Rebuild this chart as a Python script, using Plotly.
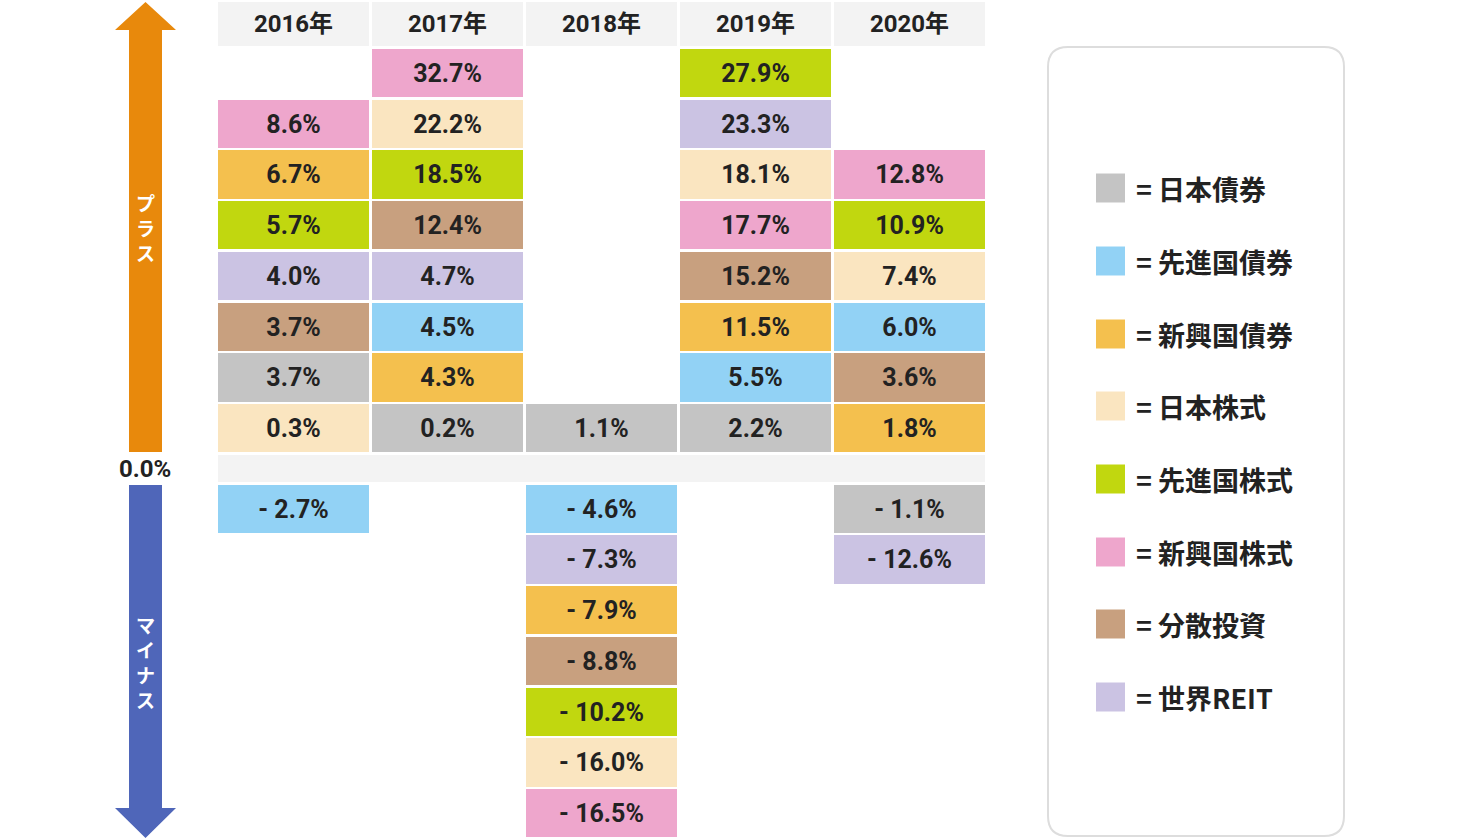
import plotly.graph_objects as go

years = ["2016年", "2017年", "2018年", "2019年", "2020年"]
assets = ["日本債券", "先進国債券", "新興国債券", "日本株式", "先進国株式", "新興国株式", "分散投資", "世界REIT"]
colors = ["#c4c4c4", "#92d2f5", "#f4c04e", "#fae5c0", "#c1d70f", "#eea6cc", "#c8a07f", "#cbc3e3"]

# returns (%) per asset, per year 2016..2020
ret_jp_bond    = [3.7, 0.2, 1.1, 2.2, -1.1]
ret_dev_bond   = [-2.7, 4.5, -4.6, 5.5, 6.0]
ret_em_bond    = [6.7, 4.3, -7.9, 11.5, 1.8]
ret_jp_eq      = [0.3, 22.2, -16.0, 18.1, 7.4]
ret_dev_eq     = [5.7, 18.5, -10.2, 27.9, 10.9]
ret_em_eq      = [8.6, 32.7, -16.5, 17.7, 12.8]
ret_balanced   = [3.7, 12.4, -8.8, 15.2, 3.6]
ret_reit       = [4.0, 4.7, -7.3, 23.3, -12.6]
returns = [ret_jp_bond, ret_dev_bond, ret_em_bond, ret_jp_eq,
           ret_dev_eq, ret_em_eq, ret_balanced, ret_reit]

# layout constants (row units)
CELL_H = 0.95
OFFSET = 0.32
BAR_W = 0.98

# rank within year: positives counted upward from zero, negatives downward
def rank_of(ai, yi):
    v = returns[ai][yi]
    same_sign = [(returns[k][yi], k) for k in range(len(assets))
                 if (returns[k][yi] >= 0) == (v >= 0)]
    if v >= 0:
        order = sorted(same_sign)  # smallest first
    else:
        order = sorted(same_sign, key=lambda t: (-t[0], t[1]))  # closest to zero first
    return order.index((v, ai))

fig = go.Figure()

# header cells
fig.add_trace(go.Bar(
    x=list(range(len(years))), y=[0.86] * len(years), base=[8.33] * len(years),
    width=BAR_W, marker=dict(color="#f3f3f3", line=dict(width=0)),
    text=years, texttemplate="<b>%{text}</b>", textposition="inside",
    insidetextanchor="middle", textangle=0,
    textfont=dict(family="Roboto, Noto Sans CJK JP", size=24, color="#222222"),
    hoverinfo="skip", showlegend=False,
))

for ai, name in enumerate(assets):
    xs, ys, bases, texts = [], [], [], []
    for yi in range(len(years)):
        v = returns[ai][yi]
        r = rank_of(ai, yi)
        xs.append(yi)
        if v >= 0:
            bases.append(OFFSET + r)
        else:
            bases.append(-OFFSET - r - CELL_H)
        ys.append(CELL_H)
        texts.append(f"{v:.1f}%".replace("-", "- "))
    fig.add_trace(go.Bar(
        x=xs, y=ys, base=bases, width=BAR_W, name=name,
        marker=dict(color=colors[ai], line=dict(width=0)),
        text=texts, texttemplate="<b>%{text}</b>", textposition="inside",
        insidetextanchor="middle", textangle=0,
        textfont=dict(family="Roboto", size=25, color="#222222"),
        hoverinfo="skip", showlegend=False,
    ))

# legend swatches (pixel axes)
leg_y = [188, 261, 334, 406, 479, 552, 624, 697]
fig.add_trace(go.Scatter(
    x=[1110.5] * len(assets), y=leg_y, mode="markers",
    marker=dict(symbol="square", size=29, color=colors, line=dict(width=0)),
    xaxis="x2", yaxis="y2", hoverinfo="skip", showlegend=False,
))
for i, name in enumerate(assets):
    fig.add_annotation(x=1134, y=leg_y[i], xref="x2", yref="y2", text="<b>= " + name + "</b>",
                       showarrow=False, xanchor="left", yanchor="middle",
                       font=dict(family="Noto Sans CJK JP", size=27, color="#222222"))

shapes = []
# zero band
shapes.append(dict(type="rect", xref="x", yref="y", x0=-0.49, x1=4.49, y0=-0.266, y1=0.266,
                   fillcolor="#f3f3f3", line=dict(width=0), layer="below"))
# arrows
shapes.append(dict(type="path", xref="x2", yref="y2",
                   path="M129,452 L129,30 L115,30 L145.5,2 L176,30 L162,30 L162,452 Z",
                   fillcolor="#e8890c", line=dict(width=0)))
shapes.append(dict(type="path", xref="x2", yref="y2",
                   path="M129,485 L162,485 L162,808 L176,808 L145.5,838 L115,808 L129,808 Z",
                   fillcolor="#4f66b9", line=dict(width=0)))
# legend frame
shapes.append(dict(type="path", xref="x2", yref="y2",
                   path="M1068,47 L1324,47 Q1344,47 1344,67 L1344,816 Q1344,836 1324,836 "
                        "L1068,836 Q1048,836 1048,816 L1048,67 Q1048,47 1068,47 Z",
                   fillcolor="rgba(0,0,0,0)", line=dict(color="#dddddd", width=2)))

plus_chars = ["プ", "ラ", "ス"]
plus_y = [202, 227, 252]
minus_chars = ["マ", "イ", "ナ", "ス"]
minus_y = [624, 649, 674, 699]
for ch, yy in list(zip(plus_chars, plus_y)) + list(zip(minus_chars, minus_y)):
    fig.add_annotation(x=145.5, y=yy, xref="x2", yref="y2", text="<b>" + ch + "</b>",
                       showarrow=False, yanchor="middle",
                       font=dict(family="Noto Sans CJK JP", size=19, color="white"))
fig.add_annotation(x=145, y=469, xref="x2", yref="y2", text="<b>0.0%</b>",
                   showarrow=False, font=dict(family="Roboto", size=24, color="#222222"))

fig.update_layout(
    width=1460, height=838, margin=dict(l=0, r=0, t=0, b=0),
    paper_bgcolor="white", plot_bgcolor="white",
    barmode="overlay", bargap=0,
    font=dict(family="Roboto, Noto Sans CJK JP"),
    xaxis=dict(range=[-293.5 / 154, (1460 - 293.5) / 154], visible=False, fixedrange=True),
    yaxis=dict(range=[-(838 - 468.5) / 50.75, 468.5 / 50.75], visible=False, fixedrange=True),
    xaxis2=dict(range=[0, 1460], overlaying="x", visible=False, anchor="y2", fixedrange=True),
    yaxis2=dict(range=[838, 0], overlaying="y", visible=False, anchor="x2", fixedrange=True),
    shapes=shapes,
)

fig.write_html("out.html", config={"displayModeBar": False},
               post_script="document.body.style.margin='0';")
